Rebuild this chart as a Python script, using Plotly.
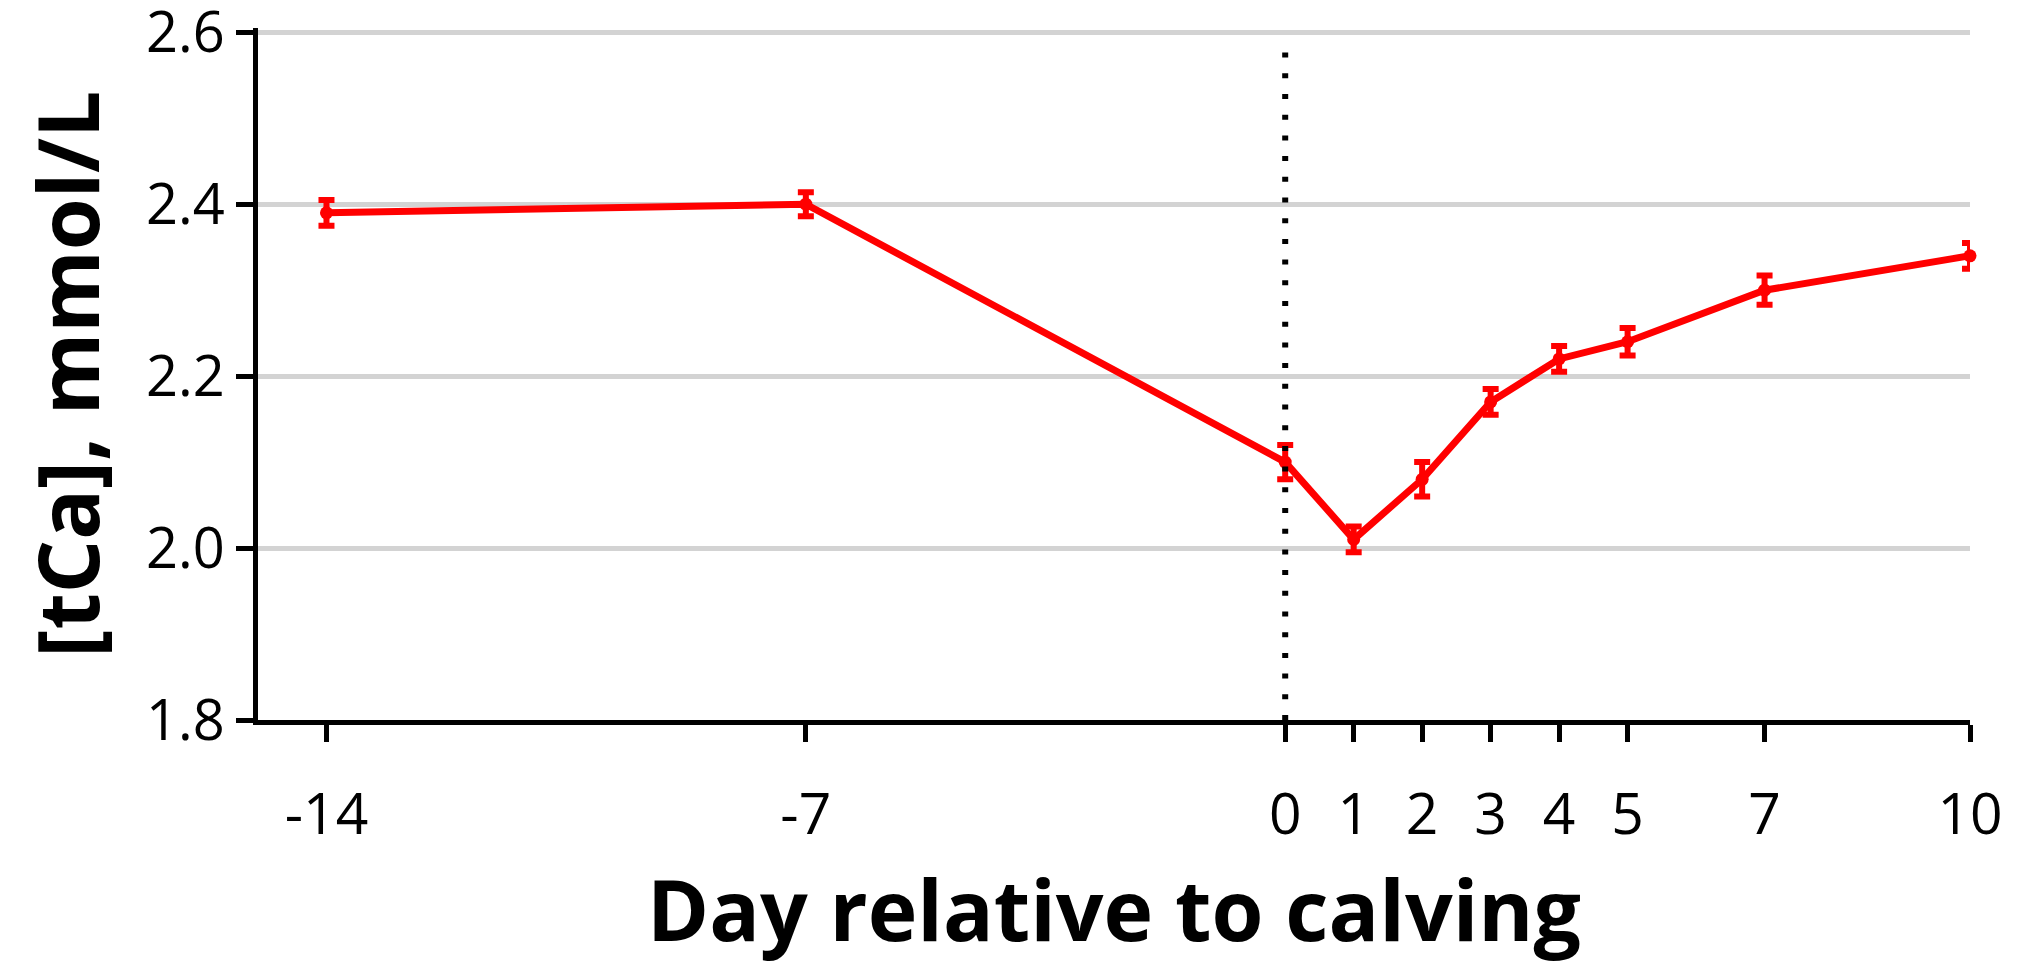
import plotly.graph_objects as go

days = [-14, -7, 0, 1, 2, 3, 4, 5, 7, 10]
tca = [2.39, 2.40, 2.10, 2.01, 2.08, 2.17, 2.22, 2.24, 2.30, 2.34]
sem = [0.015, 0.014, 0.02, 0.015, 0.02, 0.015, 0.015, 0.016, 0.017, 0.015]
x_ticks = [-14, -7, 0, 1, 2, 3, 4, 5, 7, 10]
y_ticks = [1.8, 2.0, 2.2, 2.4, 2.6]

FONT = "Open Sans"

fig = go.Figure()
fig.add_trace(go.Scatter(
    x=days, y=tca, mode="lines+markers",
    line=dict(color="#ff0000", width=7),
    marker=dict(color="#ff0000", size=13),
    error_y=dict(type="data", array=sem, visible=True, color="#ff0000", thickness=6, width=8),
    cliponaxis=False, showlegend=False,
))

fig.add_shape(type="line", x0=0, x1=0, y0=1.8, y1=2.585, xref="x", yref="y",
              line=dict(color="black", width=6, dash="5px,15.7px"), layer="above")

fig.update_layout(
    width=2025, height=967,
    margin=dict(l=250, r=63, t=20, b=255),
    plot_bgcolor="white", paper_bgcolor="white",
    font=dict(family=FONT, color="black"),
    xaxis=dict(
        range=[-15, 10], tickmode="array", tickvals=x_ticks,
        ticktext=[str(v) for v in x_ticks],
        showgrid=False, zeroline=False, automargin=False,
        showline=True, linecolor="black", linewidth=5,
        ticks="outside", ticklen=17, tickwidth=5, tickcolor="black",
        tickfont=dict(family=FONT, size=57, color="black"),
        ticklabelstandoff=24, ticklabeloverflow="allow",
        title=dict(text="<b>Day relative to calving</b>", font=dict(family=FONT, size=84, color="black"), standoff=30),
    ),
    yaxis=dict(
        range=[1.8, 2.605], tickmode="array", tickvals=y_ticks,
        ticktext=[f"{v:.1f}" for v in y_ticks],
        showgrid=True, gridcolor="#d3d3d3", gridwidth=5,
        zeroline=False, automargin=False,
        showline=True, linecolor="black", linewidth=5,
        ticks="outside", ticklen=17, tickwidth=5, tickcolor="black",
        tickfont=dict(family=FONT, size=56, color="black"),
        ticklabeloverflow="allow",
        title=dict(text="<b>[tCa], mmol/L</b>", font=dict(family=FONT, size=84, color="black"), standoff=20),
    ),
)

fig.write_html("out.html")
